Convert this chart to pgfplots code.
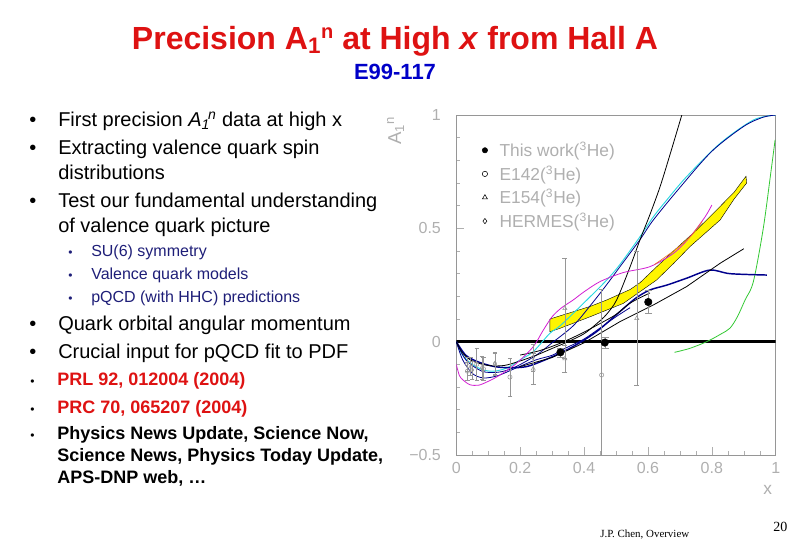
\documentclass[border=0pt]{standalone}
\usepackage{pgfplots}
\pgfplotsset{compat=1.18}
\usepackage{fontspec}
\setmainfont{Liberation Sans}
\newfontfamily\serif{Liberation Serif}
\definecolor{titlered}{RGB}{222,18,18}
\definecolor{subblue}{RGB}{0,0,200}
\definecolor{subnavy}{RGB}{30,30,120}
\definecolor{labgray}{RGB}{175,175,175}
\definecolor{datgray}{RGB}{150,150,150}
\definecolor{cyanc}{RGB}{40,215,225}
\definecolor{navyc}{RGB}{0,0,140}
\definecolor{magc}{RGB}{210,30,210}
\definecolor{greenc}{RGB}{50,200,50}
\definecolor{bandy}{RGB}{255,245,0}
\definecolor{orangec}{RGB}{235,110,40}

\begin{document}
\begin{tikzpicture}
\path[use as bounding box] (0pt,0pt) rectangle (594pt,-405pt);

% slide text, in pixels from the top left corner
\begin{scope}[x=0.75pt,y=-0.75pt, every node/.style={inner sep=0pt}]
\node[anchor=base, text=titlered, font=\fontsize{24}{28}\selectfont\bfseries] at (395,49)
  {Precision A\textsubscript{1}\raisebox{0.33em}{\fontsize{15}{15}\selectfont n} at High \textit{x} from Hall A};
\node[anchor=base, text=subblue, font=\fontsize{16.5}{19}\selectfont\bfseries] at (395,79) {E99-117};

\begin{scope}[every node/.append style={anchor=base west, font=\fontsize{15}{18}\selectfont}]
\node at (29,126) {•};
\node at (58,126) {First precision \textit{A}\textsubscript{\textit{1}}\hspace{-0.1em}\textsuperscript{\textit{n}} data at high x};
\node at (29,154) {•};
\node at (58,154) {Extracting valence quark spin};
\node at (58,179) {distributions};
\node at (29,207) {•};
\node at (58,207) {Test our fundamental understanding};
\node at (58,232) {of valence quark picture};
\node at (29,330) {•};
\node at (58,330) {Quark orbital angular momentum};
\node at (29,358) {•};
\node at (58,358) {Crucial input for pQCD fit to PDF};
\end{scope}

\begin{scope}[every node/.append style={anchor=base west, text=subnavy, font=\fontsize{12}{14}\selectfont}]
\node[font=\fontsize{9}{10}\selectfont] at (68,256) {•};
\node at (91,256) {SU(6) symmetry};
\node[font=\fontsize{9}{10}\selectfont] at (68,279) {•};
\node at (91,279) {Valence quark models};
\node[font=\fontsize{9}{10}\selectfont] at (68,302) {•};
\node at (91,302) {pQCD (with HHC) predictions};
\end{scope}

\begin{scope}[every node/.append style={anchor=base west, font=\fontsize{13.5}{16}\selectfont\bfseries}]
\node[font=\fontsize{9}{10}\selectfont] at (30,385) {•};
\node[text=titlered] at (57,385) {PRL 92, 012004 (2004)};
\node[font=\fontsize{9}{10}\selectfont] at (30,413) {•};
\node[text=titlered] at (57,413) {PRC 70, 065207 (2004)};
\node[font=\fontsize{9}{10}\selectfont] at (30,439) {•};
\node at (57,439) {Physics News Update, Science Now,};
\node at (57,461.5) {Science News, Physics Today Update,};
\node at (57,483) {APS-DNP web, …};
\end{scope}

\node[anchor=base west, font=\serif\fontsize{8.2}{10}\selectfont] at (600,537) {J.P. Chen, Overview};
\node[anchor=base west, font=\serif\fontsize{10.5}{12}\selectfont] at (773,531) {20};
\end{scope}

% the plot: box from x=456.3px to 775.7px, y=115px to 455px
\begin{axis}[
  at={(342.2pt,-341.25pt)}, anchor=south west,
  scale only axis, width=239.6pt, height=255pt,
  xmin=0, xmax=1, ymin=-0.5, ymax=1,
  xtick={0,0.2,0.4,0.6,0.8,1},
  xticklabels={0,0.2,0.4,0.6,0.8,1},
  ytick={-0.5,0,0.5,1},
  yticklabels={−0.5,0,0.5,1},
  minor x tick num=3, minor y tick num=4,
  xtick pos=bottom, ytick pos=left,
  major tick length=6pt, minor tick length=3pt,
  tick style={labgray, thin},
  axis line style={datgray, thin},
  tick label style={text=labgray, font=\fontsize{12}{14}\selectfont},
  yticklabel style={xshift=-8pt},
  xticklabel style={yshift=-2pt},
  xlabel={x}, xlabel style={text=labgray, font=\fontsize{13}{15}\selectfont,
    at={(axis description cs:0.975,-0.103)}, anchor=center},
  ylabel={A\textsubscript{1}\textsuperscript{n}}, ylabel style={text=labgray, font=\fontsize{14}{16}\selectfont,
    at={(axis description cs:-0.19,0.955)}, anchor=center},
  legend style={at={(axis cs:0.068,0.905)}, anchor=north west, draw=none, fill=none,
    text=labgray, font=\fontsize{13}{15}\selectfont, row sep=1.5pt, cells={anchor=west},
    /tikz/every odd column/.append style={column sep=7pt}},
  legend cell align=left,
  clip=true,
]
\addlegendimage{only marks, mark=*, mark size=2pt, black}
\addlegendentry{This work(\textsuperscript{3}He)}
\addlegendimage{only marks, mark=o, mark size=2pt, black}
\addlegendentry{E142(\textsuperscript{3}He)}
\addlegendimage{only marks, mark=triangle, mark size=2.2pt, black}
\addlegendentry{E154(\textsuperscript{3}He)}
\addlegendimage{only marks, mark=diamond, mark size=2pt, black}
\addlegendentry{HERMES(\textsuperscript{3}He)}

% yellow band
\addplot[fill=bandy, draw=black, line width=0.3pt, forget plot] coordinates {
  (0.293,0.100) (0.366,0.132) (0.420,0.156) (0.471,0.184) (0.544,0.230) (0.575,0.260)
  (0.627,0.330) (0.680,0.400) (0.750,0.490) (0.815,0.581) (0.870,0.660) (0.907,0.730)
  (0.909,0.700) (0.870,0.630) (0.826,0.537) (0.732,0.420) (0.680,0.345) (0.627,0.272)
  (0.523,0.169) (0.419,0.110) (0.325,0.059) (0.293,0.044) (0.293,0.100)};

% zero line
\addplot[black, line width=2pt, forget plot] coordinates {(0,0) (1,0)};

% green
\addplot[greenc, line width=0.6pt, smooth, forget plot] coordinates {
  (0.683,-0.047) (0.730,-0.030) (0.784,0.000) (0.830,0.035) (0.857,0.060) (0.880,0.110)
  (0.904,0.184) (0.930,0.265) (0.961,0.500) (0.985,0.750) (0.998,0.890)};

% cyan
\addplot[cyanc, line width=0.7pt, smooth, forget plot] coordinates {
  (0,0) (0.020,-0.060) (0.050,-0.100) (0.085,-0.125) (0.120,-0.130) (0.160,-0.115)
  (0.200,-0.080) (0.241,-0.044) (0.293,0.037) (0.325,0.070) (0.398,0.169) (0.471,0.272)
  (0.512,0.340) (0.575,0.463) (0.617,0.551) (0.659,0.625) (0.721,0.728) (0.826,0.875)
  (0.930,0.978) (1,1)};

% navy, close to cyan at high x
\addplot[navyc, line width=0.6pt, smooth, forget plot] coordinates {
  (0,0) (0.030,-0.080) (0.080,-0.130) (0.130,-0.135) (0.180,-0.115) (0.250,-0.060)
  (0.300,-0.005) (0.366,0.070) (0.420,0.160) (0.470,0.250) (0.512,0.330) (0.575,0.450)
  (0.617,0.537) (0.700,0.680) (0.800,0.840) (0.900,0.950) (0.960,0.990) (1,1)};

% thick navy through the first data point
\addplot[navyc, line width=1.1pt, smooth, forget plot] coordinates {
  (0,0) (0.030,-0.060) (0.070,-0.090) (0.120,-0.110) (0.170,-0.115) (0.220,-0.110)
  (0.270,-0.085) (0.326,-0.050) (0.380,-0.010) (0.440,0.045) (0.502,0.120) (0.560,0.190)
  (0.606,0.228) (0.660,0.250) (0.721,0.280) (0.794,0.316) (0.857,0.300) (0.972,0.294)};

% lower navy with deeper dip
\addplot[navyc, line width=0.6pt, smooth, forget plot] coordinates {
  (0,0) (0.020,-0.080) (0.050,-0.140) (0.085,-0.160) (0.130,-0.150) (0.189,-0.115)
  (0.250,-0.080) (0.300,-0.060) (0.340,-0.030) (0.398,0.010) (0.450,0.060) (0.500,0.110)
  (0.544,0.150)};

% black steep curve
\addplot[black, line width=0.6pt, smooth, forget plot] coordinates {
  (0,0) (0.020,-0.050) (0.050,-0.085) (0.100,-0.105) (0.150,-0.105) (0.200,-0.085)
  (0.250,-0.060) (0.300,-0.030) (0.350,0.000) (0.400,0.035) (0.440,0.080) (0.470,0.120)
  (0.502,0.184) (0.544,0.330) (0.575,0.449) (0.606,0.560) (0.638,0.684) (0.670,0.830)
  (0.706,1.000)};

% black, upper straight branch
\addplot[black, line width=0.6pt, smooth, forget plot] coordinates {
  (0.200,-0.059) (0.260,-0.040) (0.325,-0.007) (0.390,0.035) (0.450,0.080) (0.500,0.120)
  (0.544,0.170) (0.606,0.215)};

% black, lower straight line
\addplot[black, line width=0.6pt, forget plot] coordinates {
  (0.200,-0.110) (0.300,-0.070) (0.400,-0.005) (0.512,0.088) (0.617,0.162)
  (0.721,0.243) (0.826,0.346) (0.900,0.410)};

% magenta
\addplot[magc, line width=0.6pt, smooth, forget plot] coordinates {
  (0.000,-0.100) (0.010,-0.150) (0.022,-0.170) (0.043,-0.190) (0.070,-0.192) (0.100,-0.175)
  (0.137,-0.147) (0.189,-0.095) (0.241,-0.022) (0.272,0.050) (0.300,0.110) (0.330,0.150)
  (0.366,0.184) (0.400,0.220) (0.450,0.265) (0.523,0.305) (0.606,0.331) (0.680,0.390)
  (0.732,0.463) (0.779,0.551) (0.800,0.603)};

% orange, along the band
\addplot[orangec, line width=0.5pt, smooth, forget plot] coordinates {
  (0.620,0.340) (0.680,0.400) (0.730,0.460) (0.770,0.530)};

% E142
\addplot[datgray, only marks, mark=o, mark size=1.6pt, forget plot,
  error bars/.cd, y dir=both, y explicit, error bar style={datgray, thin}]
  coordinates {
  (0.035,-0.130) +- (0,0.040)
  (0.064,-0.100) +- (0,0.070)
  (0.085,-0.120) +- (0,0.050)
  (0.168,-0.156) +- (0,0.085)
  (0.455,-0.147) +- (0,0.380)};

% E154
\addplot[datgray, only marks, mark=triangle, mark size=1.8pt, forget plot,
  error bars/.cd, y dir=both, y explicit, error bar style={datgray, thin}]
  coordinates {
  (0.045,-0.110) +- (0,0.040)
  (0.121,-0.100) +- (0,0.050)
  (0.241,-0.120) +- (0,0.070)
  (0.340,-0.075) +- (0,0.060)
  (0.340,0.147) +- (0,0.220)
  (0.565,0.103) +- (0,0.295)};

% HERMES
\addplot[datgray, only marks, mark=diamond, mark size=1.6pt, forget plot,
  error bars/.cd, y dir=both, y explicit, error bar style={datgray, thin}]
  coordinates {
  (0.033,-0.100) +- (0,0.030)
  (0.050,-0.125) +- (0,0.040)
  (0.080,-0.115) +- (0,0.050)
  (0.121,-0.095) +- (0,0.050)
  (0.240,-0.070) +- (0,0.060)};

% this work
\addplot[black, only marks, mark=*, mark size=2.8pt, forget plot,
  error bars/.cd, y dir=both, y explicit, error bar style={datgray, thin}]
  coordinates {
  (0.326,-0.047) +- (0,0.020)
  (0.465,-0.004) +- (0,0.025)
  (0.601,0.175) +- (0,0.050)};
\end{axis}

\end{tikzpicture}
\end{document}
